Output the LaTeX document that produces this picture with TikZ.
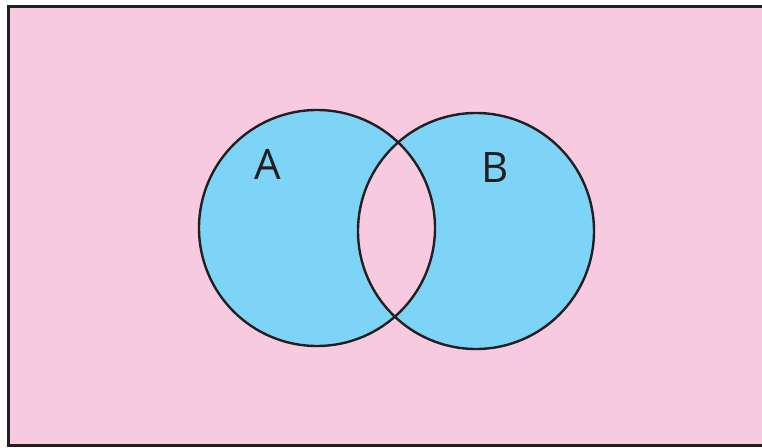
\documentclass[tikz,border=0pt]{standalone}
\usepackage{fontspec}
\setmainfont{Open Sans}
\definecolor{bgpink}{HTML}{F7CAE0}
\definecolor{setblue}{HTML}{7DD4F6}
\definecolor{edge}{HTML}{231F20}
\begin{document}
\begin{tikzpicture}[x=1pt,y=-1pt,
  setcircle/.style={circle,draw=edge,line width=2.4pt,minimum size=236pt,inner sep=0pt},
  setlabel/.style={font=\fontsize{42}{42}\selectfont,text=edge}]
\useasboundingbox (0,0) rectangle (762,447);
\fill[white] (0,0) rectangle (762,447);
\draw[fill=bgpink,draw=edge,line width=3pt] (8,6) rectangle (775,445);
\coordinate (ca) at (317,228);
\coordinate (cb) at (476,231);
\fill[setblue,even odd rule] (ca) circle (118) (cb) circle (118);
\node[setcircle] (A) at (ca) {};
\node[setcircle] (B) at (cb) {};
\node[setlabel] (la) at (268,164) {A};
\node[setlabel] (lb) at (495,168) {B};
\end{tikzpicture}
\end{document}
